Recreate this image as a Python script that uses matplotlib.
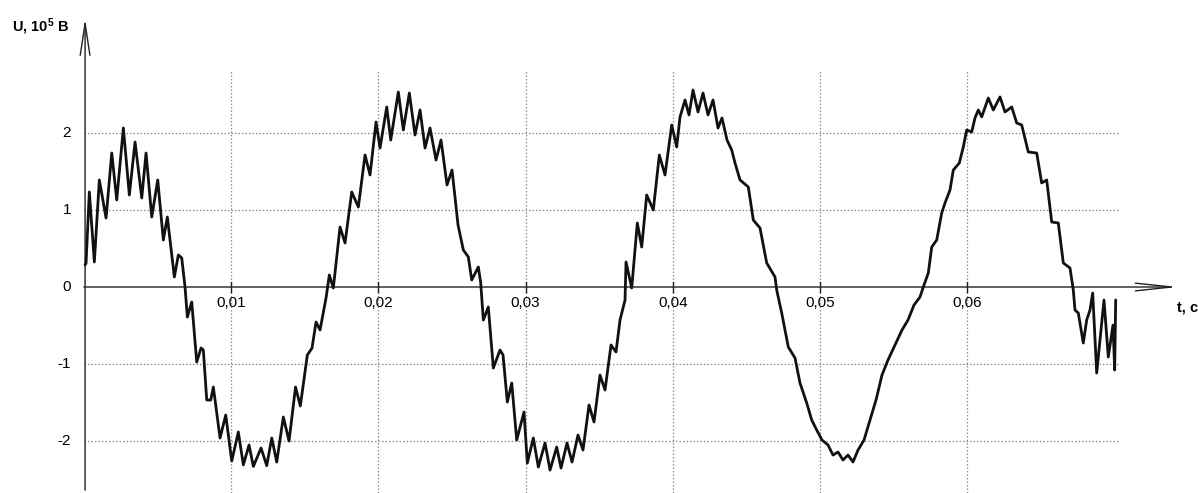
import numpy as np
import matplotlib
matplotlib.use("Agg")
import matplotlib.pyplot as plt

# Voltage waveform U(t): time in milliseconds, voltage in units of 1e5 V
time_ms = [
    0.068, 0.136, 0.360, 0.700, 1.039, 1.495, 1.882, 2.221, 2.670, 3.077,
    3.465, 3.920, 4.212, 4.599, 5.007, 5.387, 5.659, 6.135, 6.406, 6.637,
    6.861, 7.018, 7.317, 7.656, 7.948, 8.105, 8.336, 8.607, 8.784, 9.239,
    9.626, 10.034, 10.482, 10.822, 11.209, 11.501, 12.024, 12.412, 12.752, 13.091,
    13.539, 13.927, 14.368, 14.694, 15.170, 15.489, 15.761, 16.033, 16.440, 16.664,
    16.936, 17.391, 17.731, 18.186, 18.635, 19.090, 19.429, 19.837, 20.109, 20.564,
    20.836, 21.352, 21.692, 22.099, 22.487, 22.826, 23.166, 23.505, 23.913, 24.253,
    24.660, 25.000, 25.408, 25.768, 26.107, 26.338, 26.787, 26.950, 27.126, 27.466,
    27.806, 28.261, 28.465, 28.757, 29.056, 29.395, 29.891, 30.115, 30.523, 30.863,
    31.318, 31.658, 32.113, 32.405, 32.812, 33.152, 33.560, 33.899, 34.307, 34.647,
    35.054, 35.394, 35.802, 36.141, 36.413, 36.753, 36.821, 37.208, 37.588, 37.887,
    38.227, 38.675, 39.083, 39.470, 39.925, 40.265, 40.489, 40.829, 41.101, 41.372,
    41.712, 42.052, 42.391, 42.731, 43.071, 43.342, 43.682, 44.001, 44.226, 44.565,
    45.129, 45.469, 45.924, 46.379, 46.943, 47.058, 47.398, 47.846, 48.302, 48.641,
    49.096, 49.436, 49.776, 50.136, 50.543, 50.883, 51.223, 51.562, 51.902, 52.242,
    52.582, 52.989, 53.397, 53.804, 54.212, 54.620, 55.095, 55.571, 55.978, 56.386,
    56.793, 57.018, 57.358, 57.589, 57.928, 58.268, 58.492, 58.832, 59.056, 59.464,
    59.735, 59.966, 60.306, 60.530, 60.754, 60.985, 61.433, 61.773, 62.228, 62.568,
    63.023, 63.363, 63.703, 64.151, 64.722, 65.061, 65.401, 65.741, 66.189, 66.529,
    66.984, 67.208, 67.323, 67.548, 67.887, 68.118, 68.342, 68.526, 68.798, 69.293,
    69.586, 69.905, 70.020, 70.088,
]
voltage = [
    0.286, 0.312, 1.234, 0.325, 1.390, 0.896, 1.740, 1.130, 2.065, 1.195,
    1.883, 1.156, 1.740, 0.909, 1.390, 0.610, 0.909, 0.130, 0.416, 0.377,
    0.000, -0.390, -0.195, -0.974, -0.792, -0.818, -1.468, -1.468, -1.299, -1.961,
    -1.662, -2.260, -1.883, -2.310, -2.052, -2.330, -2.091, -2.320, -1.961, -2.273,
    -1.688, -2.000, -1.299, -1.545, -0.883, -0.792, -0.455, -0.558, -0.143, 0.156,
    -0.013, 0.779, 0.571, 1.234, 1.039, 1.714, 1.455, 2.143, 1.805, 2.338,
    1.909, 2.532, 2.039, 2.519, 1.974, 2.299, 1.805, 2.065, 1.649, 1.909,
    1.325, 1.519, 0.805, 0.481, 0.390, 0.091, 0.260, 0.052, -0.429, -0.260,
    -1.052, -0.818, -0.883, -1.494, -1.247, -1.987, -1.623, -2.286, -1.961, -2.338,
    -2.026, -2.377, -2.078, -2.351, -2.026, -2.273, -1.922, -2.117, -1.532, -1.753,
    -1.143, -1.338, -0.753, -0.844, -0.429, -0.169, 0.325, -0.013, 0.831, 0.519,
    1.195, 1.000, 1.714, 1.455, 2.104, 1.818, 2.208, 2.429, 2.234, 2.558,
    2.273, 2.519, 2.234, 2.429, 2.065, 2.195, 1.909, 1.779, 1.610, 1.390,
    1.299, 0.870, 0.766, 0.312, 0.130, -0.039, -0.338, -0.779, -0.922, -1.247,
    -1.506, -1.727, -1.857, -1.987, -2.052, -2.182, -2.143, -2.247, -2.182, -2.273,
    -2.117, -1.987, -1.727, -1.468, -1.143, -0.948, -0.753, -0.558, -0.429, -0.234,
    -0.130, 0.000, 0.182, 0.519, 0.610, 0.961, 1.091, 1.260, 1.519, 1.610,
    1.818, 2.039, 2.013, 2.195, 2.299, 2.208, 2.455, 2.299, 2.468, 2.273,
    2.338, 2.130, 2.104, 1.753, 1.740, 1.351, 1.390, 0.844, 0.831, 0.312,
    0.247, -0.039, -0.299, -0.338, -0.727, -0.429, -0.299, -0.078, -1.117, -0.169,
    -0.909, -0.494, -1.078, -0.169,
]

x_ticks = [0.01, 0.02, 0.03, 0.04, 0.05, 0.06]
x_tick_labels = ["0,01", "0,02", "0,03", "0,04", "0,05", "0,06"]
y_ticks = [2, 1, 0, -1, -2]
y_tick_labels = ["2", "1", "0", "-1", "-2"]

plt.rcParams["font.family"] = ["Liberation Sans", "DejaVu Sans"]
plt.rcParams["mathtext.fontset"] = "custom"
plt.rcParams["mathtext.rm"] = "Liberation Sans:bold"
plt.rcParams["mathtext.it"] = "Liberation Sans:bold"
plt.rcParams["mathtext.bf"] = "Liberation Sans:bold"

fig = plt.figure(figsize=(11.98, 4.93), dpi=100)
ax = fig.add_axes([0, 0, 1, 1])
ax.set_xlim(-0.00571, 0.07568)
ax.set_ylim(-2.675, 3.727)
ax.axis("off")

t = np.asarray(time_ms) * 1e-3
u = np.asarray(voltage)

grid_kw = dict(color="#8c8c8c", lw=0.9, ls=(0, (1.2, 1.6)), zorder=1)
t_end = 0.07024
for yv in y_ticks:
    if yv != 0:
        ax.plot([0, t_end], [yv, yv], **grid_kw)
for xv in x_ticks:
    ax.plot([xv, xv], [-2.675, 2.82], **grid_kw)

# axes with open arrowheads
ax.annotate("", xy=(0.0745, 0), xytext=(-0.0002, 0),
            arrowprops=dict(arrowstyle="->,head_length=2.6,head_width=0.28",
                            color="#222222", lw=1.0, mutation_scale=10),
            zorder=3)
ax.annotate("", xy=(0.00007, 3.52), xytext=(0.00007, -2.675),
            arrowprops=dict(arrowstyle="->,head_length=2.3,head_width=0.35",
                            color="#222222", lw=1.0, mutation_scale=10),
            zorder=3)

for xv in x_ticks:
    ax.plot([xv, xv], [-0.06, 0.06], color="#222222", lw=1.0, zorder=3)

for xv, lab in zip(x_ticks, x_tick_labels):
    ax.text(xv, -0.12, lab, ha="center", va="top", fontsize=11)
for yv, lab in zip(y_ticks, y_tick_labels):
    ax.text(-0.00088, yv, lab, ha="right", va="center", fontsize=11)

ax.text(0.07424, -0.27, "t, c", ha="left", va="center",
        fontsize=10.5, fontweight="bold")
ax.text(-0.00490, 3.38, r"U, 10$^{5}$ B", ha="left", va="center",
        fontsize=10.5, fontweight="bold")

ax.plot(t, u, color="#111111", lw=2.0, solid_joinstyle="round",
        solid_capstyle="round", zorder=4)

fig.savefig("out.png", dpi=100)
